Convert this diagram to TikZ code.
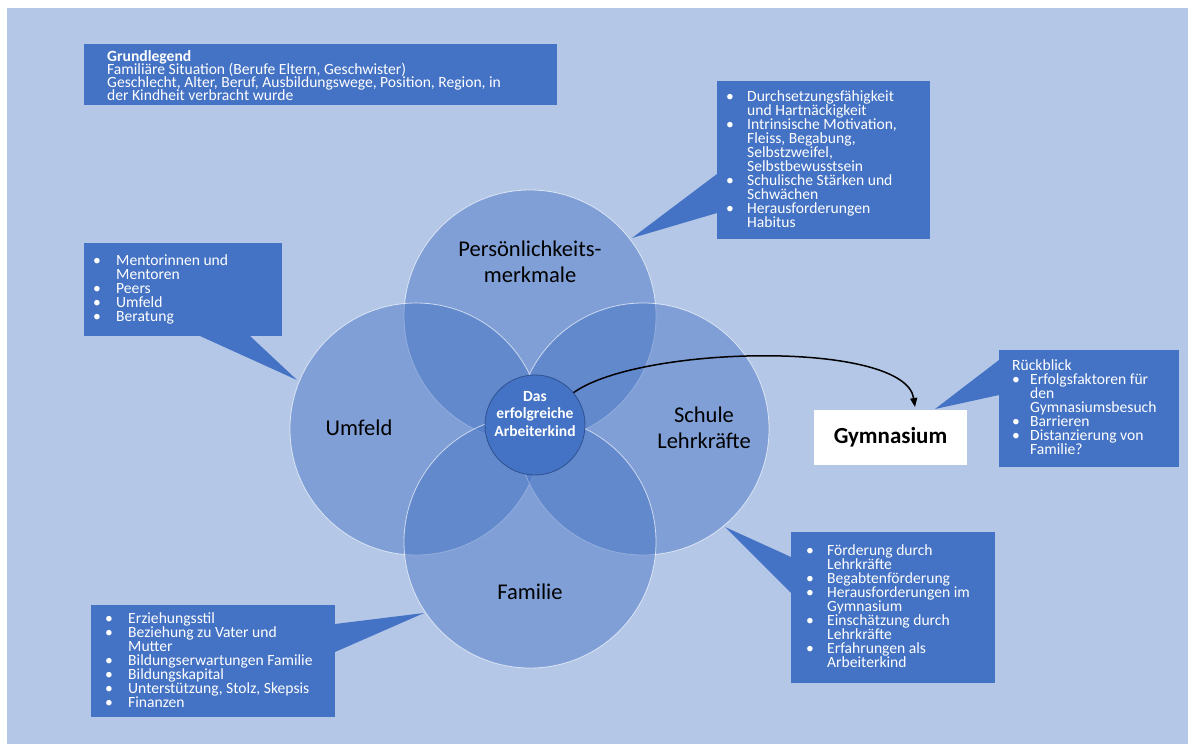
\documentclass[tikz,border=0pt]{standalone}
\usepackage{fontspec}
\setmainfont{Carlito}
\usetikzlibrary{arrows.meta,calc}
\definecolor{bgblue}{HTML}{B4C7E7}
\definecolor{accent}{HTML}{4472C4}
\definecolor{darkacc}{HTML}{2F528F}
\newcommand{\bl}[2][21pt]{\makebox[#1][l]{\textbullet}#2}
\newcommand{\cl}[2][21pt]{\makebox[#1][l]{}#2}
\newcommand{\tightlines}{\lineskiplimit=-20pt\relax\lineskip=0pt\relax}
\begin{document}
\begin{tikzpicture}[x=1pt,y=-1pt,
  boxstyle/.style={fill=accent, draw=none, inner sep=0pt, outer sep=0pt, anchor=north west},
  boxtext/.style={text=white, font=\fontsize{15.6}{14}\selectfont\tightlines, align=left, anchor=north west, inner sep=0pt},
  petal/.style={circle, fill=accent, fill opacity=0.47, draw=white, draw opacity=0.65, line width=0.8pt, minimum size=252pt, inner sep=0pt},
  petallabel/.style={font=\fontsize{22.5}{26}\selectfont, text=black, align=center, inner sep=0pt},
]
% canvas
\fill[white] (0,0) rectangle (1188,744);
\fill[bgblue] (7,8) rectangle (1188,744);

% petals
\node[petal] (ptop)   at (530,316) {};
\node[petal] (pleft)  at (416,429) {};
\node[petal] (pright) at (643,429) {};
\node[petal] (pbot)   at (530,542) {};

\node[petallabel] (ltop)   at (530,262) {Persönlichkeits-\\merkmale};
\node[petallabel] (lleft)  at (359,428) {Umfeld};
\node[petallabel] (lright) at (704,428) {Schule\\Lehrkräfte};
\node[petallabel] (lbot)   at (530,592) {Familie};

% core
\node[circle, fill=accent, draw=darkacc, line width=0.8pt, minimum size=100pt, inner sep=0pt] (core) at (535,425) {};
\node[text=white, font=\bfseries\fontsize{15.5}{17.5}\selectfont, align=center, inner sep=0pt] (coretext) at (535,414) {Das\\erfolgreiche\\Arbeiterkind};

% Gymnasium
\node[fill=white, minimum width=153pt, minimum height=55pt, inner sep=0pt, font=\bfseries\fontsize{23}{26}\selectfont] (gym) at (890.5,437.5) {Gymnasium};
\coordinate (arrowend) at (915,407);
\draw[-{Triangle[length=9pt,width=7pt]}, line width=1.5pt] (core.40) .. controls (640,345) and (905,340) .. (arrowend);

% boxes
\node[boxstyle, minimum width=473pt, minimum height=61pt] (gbox) at (84,44) {};
\node[boxstyle, minimum width=213pt, minimum height=158pt] (pbox) at (717,81) {};
\node[boxstyle, minimum width=198pt, minimum height=93pt] (ubox) at (84,243) {};
\node[boxstyle, minimum width=180pt, minimum height=117pt] (rbox) at (999,350) {};
\node[boxstyle, minimum width=204pt, minimum height=151pt] (sbox) at (791,532) {};
\node[boxstyle, minimum width=244pt, minimum height=112pt] (fbox) at (91,605) {};

% pointers
\coordinate (ptip) at (632,238);
\coordinate (utip) at (297,380);
\coordinate (rtip) at (935,409);
\coordinate (stip) at (725,527);
\coordinate (ftip) at (424,613);
\fill[accent] ($(pbox.north west)+(0,93)$) -- (ptip) -- ($(pbox.north west)+(0,132)$) -- cycle;
\fill[accent] ($(ubox.south west)+(116,0)$) -- (utip) -- ($(ubox.south west)+(166,0)$) -- cycle;
\fill[accent] ($(rbox.north west)+(0,10)$) -- (rtip) -- ($(rbox.north west)+(0,45)$) -- cycle;
\fill[accent] ($(sbox.north west)+(0,25)$) -- (stip) -- ($(sbox.north west)+(0,61)$) -- cycle;
\fill[accent] ($(fbox.north east)+(0,19)$) -- (ftip) -- ($(fbox.north east)+(0,47)$) -- cycle;

% texts
\node[boxtext, font=\fontsize{15.6}{13}\selectfont\tightlines] (gtext) at (107,50) {\textbf{Grundlegend}\\Familiäre Situation (Berufe Eltern, Geschwister)\\Geschlecht, Alter, Beruf, Ausbildungswege, Position, Region, in\\der Kindheit verbracht wurde};
\node[boxtext] (ptext) at (726,90.5) {\bl{Durchsetzungsfähigkeit}\\\cl{und Hartnäckigkeit}\\\bl{Intrinsische Motivation,}\\\cl{Fleiss, Begabung,}\\\cl{Selbstzweifel,}\\\cl{Selbstbewusstsein}\\\bl{Schulische Stärken und}\\\cl{Schwächen}\\\bl{Herausforderungen}\\\cl{Habitus}};
\node[boxtext] (utext) at (93,254) {\bl[23pt]{Mentorinnen und}\\\cl[23pt]{Mentoren}\\\bl[23pt]{Peers}\\\bl[23pt]{Umfeld}\\\bl[23pt]{Beratung}};
\node[boxtext] (rtext) at (1012,359) {Rückblick\\\bl[18pt]{Erfolgsfaktoren für}\\\cl[18pt]{den}\\\cl[18pt]{Gymnasiumsbesuch}\\\bl[18pt]{Barrieren}\\\bl[18pt]{Distanzierung von}\\\cl[18pt]{Familie?}};
\node[boxtext] (stext) at (806,544) {\bl{Förderung durch}\\\cl{Lehrkräfte}\\\bl{Begabtenförderung}\\\bl{Herausforderungen im}\\\cl{Gymnasium}\\\bl{Einschätzung durch}\\\cl{Lehrkräfte}\\\bl{Erfahrungen als}\\\cl{Arbeiterkind}};
\node[boxtext] (ftext) at (105,612) {\bl[23pt]{Erziehungsstil}\\\bl[23pt]{Beziehung zu Vater und}\\\cl[23pt]{Mutter}\\\bl[23pt]{Bildungserwartungen Familie}\\\bl[23pt]{Bildungskapital}\\\bl[23pt]{Unterstützung, Stolz, Skepsis}\\\bl[23pt]{Finanzen}};
\end{tikzpicture}
\end{document}
